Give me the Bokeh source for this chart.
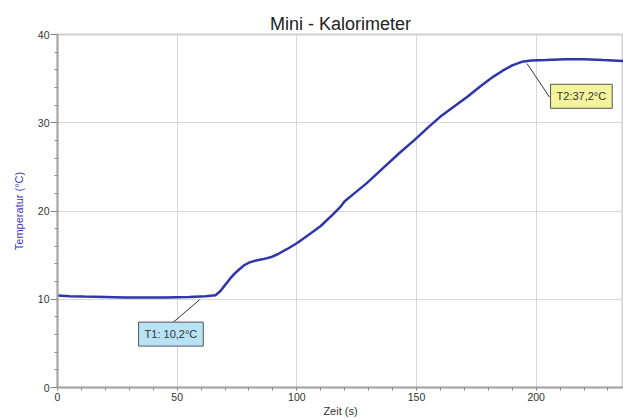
from bokeh.plotting import figure
from bokeh.models import Label, SingleIntervalTicker, Range1d
from bokeh.embed import file_html
from bokeh.resources import INLINE

# data
zeit = [0, 5, 11, 20, 28, 36, 45, 55, 62, 66, 68, 70, 72, 74, 76, 78, 80, 83,
        86, 89, 92, 96, 100, 105, 110, 115, 118, 120, 124, 129, 135, 143,
        149, 155, 160, 166, 171, 177, 182, 186, 190, 194, 198, 204, 212,
        220, 228, 236.4]
temp = [10.43, 10.35, 10.3, 10.25, 10.2, 10.2, 10.2, 10.25, 10.35, 10.45, 10.9,
        11.6, 12.3, 12.9, 13.4, 13.85, 14.15, 14.4, 14.55, 14.75, 15.1, 15.7,
        16.35, 17.3, 18.3, 19.6, 20.4, 21.1, 22.0, 23.1, 24.6, 26.6, 28.0,
        29.5, 30.7, 31.9, 32.9, 34.2, 35.2, 35.9, 36.5, 36.9, 37.05, 37.1,
        37.2, 37.2, 37.1, 37.0]

t1_text = "T1: 10,2°C"
t1_box = (47.4, 6.05)
t1_leader_x = [59.4, 47.5]
t1_leader_y = [9.94, 7.2]

t2_text = "T2:37,2°C"
t2_box = (218.9, 33.0)
t2_leader_x = [196.2, 205.6]
t2_leader_y = [36.7, 32.9]

FONT = "Liberation Sans"

p = figure(width=623, height=419, output_backend="svg", toolbar_location=None,
           x_range=Range1d(0, 236.5), y_range=Range1d(0, 40),
           title="Mini - Kalorimeter",
           x_axis_label="Zeit (s)", y_axis_label="Temperatur (°C)")

p.min_border_left = 57
p.min_border_right = 0
p.min_border_top = 34
p.min_border_bottom = 0
p.background_fill_color = "white"
p.border_fill_color = "white"
p.outline_line_color = "#d0d0d0"
p.outline_line_width = 2

p.title.text_font = FONT
p.title.text_font_size = "18px"
p.title.text_font_style = "normal"
p.title.text_color = "#222222"
p.title.align = "center"
p.title.standoff = 1

p.xaxis.ticker = SingleIntervalTicker(interval=50, num_minor_ticks=5)
p.yaxis.ticker = SingleIntervalTicker(interval=10, num_minor_ticks=5)

for ax in (p.xaxis[0], p.yaxis[0]):
    ax.axis_line_color = "#a8a8a8"
    ax.axis_line_width = 2
    ax.major_tick_line_color = "#888888"
    ax.minor_tick_line_color = "#888888"
    ax.major_tick_in = 0
    ax.minor_tick_in = 0
    ax.major_label_text_font = FONT
    ax.major_label_text_font_size = "10.5px"
    ax.major_label_text_color = "#333333"
    ax.axis_label_text_font = FONT
    ax.axis_label_text_font_size = "11px"
    ax.axis_label_text_font_style = "normal"

p.xaxis.major_tick_out = 3
p.xaxis.minor_tick_out = 3
p.xaxis.major_label_standoff = 2
p.xaxis.axis_label_standoff = 1
p.xaxis.axis_label_text_color = "#333333"

p.yaxis.major_tick_out = 7
p.yaxis.minor_tick_out = 3
p.yaxis.major_label_standoff = 1
p.yaxis.axis_label_standoff = 10
p.yaxis.axis_label_text_color = "#3c3cb0"

p.xgrid.grid_line_color = "#d8d8d8"
p.ygrid.grid_line_color = "#d8d8d8"
p.xgrid.grid_line_width = 1
p.ygrid.grid_line_width = 1

p.line(zeit, temp, line_color="#2f36a8", line_width=2.5)

p.line(t1_leader_x, t1_leader_y, line_color="#333333", line_width=1)
p.line(t2_leader_x, t2_leader_y, line_color="#333333", line_width=1)

lab1 = Label(x=t1_box[0], y=t1_box[1], text=t1_text, anchor="center",
             text_align="center", text_baseline="middle",
             text_font=FONT, text_font_size="11px", text_color="#333333",
             background_fill_color="#b8e2f6", border_line_color="#555555",
             border_line_width=1, padding=(6, 6))
lab2 = Label(x=t2_box[0], y=t2_box[1], text=t2_text, anchor="center",
             text_align="center", text_baseline="middle",
             text_font=FONT, text_font_size="11px", text_color="#333333",
             background_fill_color="#f4f49c", border_line_color="#555555",
             border_line_width=1, padding=(6, 6))
p.add_layout(lab1)
p.add_layout(lab2)

open("out.html", "w").write(file_html(p, INLINE))
